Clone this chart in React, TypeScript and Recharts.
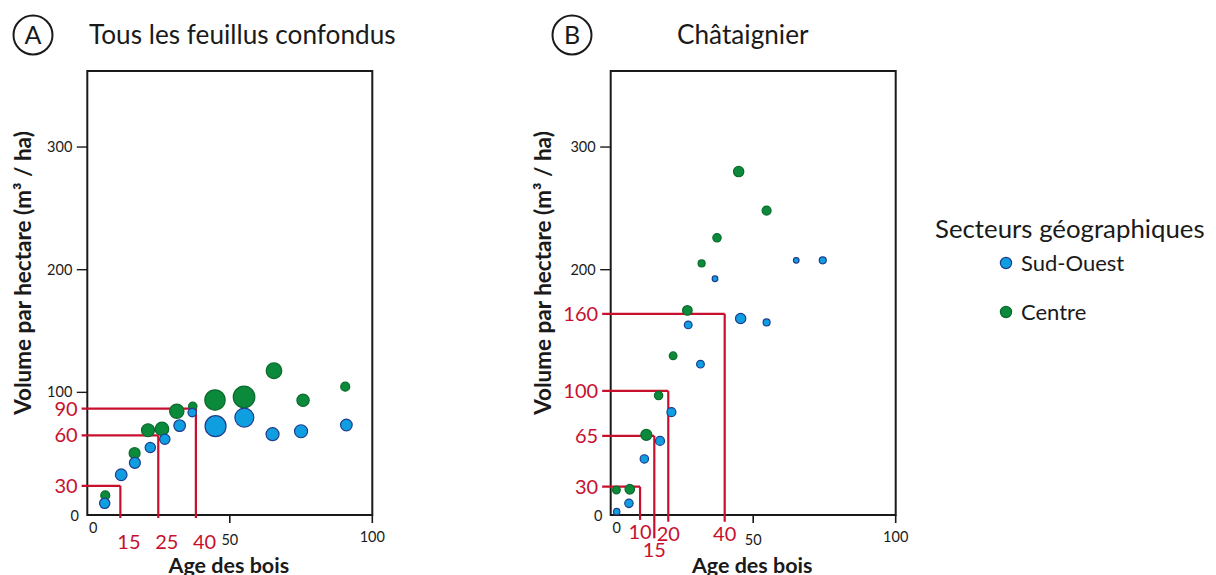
import React from 'react';
import {
  ScatterChart,
  Scatter,
  XAxis,
  YAxis,
  ReferenceArea,
  ReferenceLine,
  Legend,
} from 'recharts';

interface Point {
  age: number;
  volume: number;
  poids: number;
}

interface Guide {
  volumeLabel: string;
  ageLabel: string;
  volume: number;
  age: number;
  bas: number;
}

const SECTEURS = ['Sud-Ouest', 'Centre'];
const X_TICKS = [0, 50, 100];
const Y_TICKS_A = [0, 100, 200, 300];
// on B the red "100" stands in for the black one
const Y_TICKS_B = [0, 200, 300];

// A - tous les feuillus confondus
const sudOuestA: Point[] = [
  { age: 6.1, volume: 9.5, poids: 32 },
  { age: 11.9, volume: 32.8, poids: 40 },
  { age: 16.7, volume: 42.5, poids: 36 },
  { age: 22.1, volume: 55, poids: 32 },
  { age: 27.2, volume: 61.8, poids: 32 },
  { age: 32.4, volume: 72.9, poids: 40 },
  { age: 36.8, volume: 83.5, poids: 22 },
  { age: 45, volume: 72.4, poids: 121 },
  { age: 55.1, volume: 79.4, poids: 100 },
  { age: 65, volume: 65.9, poids: 49 },
  { age: 75, volume: 68.3, poids: 49 },
  { age: 90.9, volume: 73.4, poids: 40 },
];

const centreA: Point[] = [
  { age: 6.3, volume: 16, poids: 25 },
  { age: 16.6, volume: 50.4, poids: 36 },
  { age: 21.3, volume: 69.1, poids: 49 },
  { age: 26.2, volume: 70.2, poids: 53 },
  { age: 31.4, volume: 84.6, poids: 59 },
  { age: 37, volume: 88.6, poids: 22 },
  { age: 44.8, volume: 93.8, poids: 114 },
  { age: 55, volume: 96.2, poids: 128 },
  { age: 65.5, volume: 117.6, poids: 69 },
  { age: 75.7, volume: 93.5, poids: 44 },
  { age: 90.5, volume: 104.6, poids: 25 },
];

// B - châtaignier
const sudOuestB: Point[] = [
  { age: 2.1, volume: 2.7, poids: 14 },
  { age: 6.4, volume: 9.5, poids: 22 },
  { age: 11.8, volume: 45.7, poids: 22 },
  { age: 17.3, volume: 60.4, poids: 25 },
  { age: 21.3, volume: 83.8, poids: 25 },
  { age: 27.2, volume: 155, poids: 19 },
  { age: 31.5, volume: 123, poids: 19 },
  { age: 36.6, volume: 192.6, poids: 11 },
  { age: 45.6, volume: 160.2, poids: 32 },
  { age: 54.7, volume: 157, poids: 16 },
  { age: 65.1, volume: 207.6, poids: 11 },
  { age: 74.4, volume: 207.6, poids: 16 },
];

const centreB: Point[] = [
  { age: 2.0, volume: 20.4, poids: 19 },
  { age: 6.7, volume: 21, poids: 28 },
  { age: 12.5, volume: 65.3, poids: 36 },
  { age: 16.8, volume: 97.4, poids: 22 },
  { age: 21.9, volume: 129.8, poids: 19 },
  { age: 26.9, volume: 166.8, poids: 28 },
  { age: 31.9, volume: 205.1, poids: 16 },
  { age: 37.3, volume: 226, poids: 22 },
  { age: 44.9, volume: 280, poids: 32 },
  { age: 54.7, volume: 248.2, poids: 25 },
];

// red guides, placed where they were drawn on the original
const guidesA: Guide[] = [
  { volumeLabel: '30', ageLabel: '15', volume: 23.8, age: 11.6, bas: -2.5 },
  { volumeLabel: '60', ageLabel: '25', volume: 65, age: 24.9, bas: -2.5 },
  { volumeLabel: '90', ageLabel: '40', volume: 86.7, age: 38.1, bas: -2.5 },
];

const guidesB: Guide[] = [
  { volumeLabel: '30', ageLabel: '10', volume: 23.1, age: 10.3, bas: -4 },
  { volumeLabel: '65', ageLabel: '15', volume: 64.5, age: 15.3, bas: -19 },
  { volumeLabel: '100', ageLabel: '20', volume: 101.2, age: 20.2, bas: -5.5 },
  { volumeLabel: '160', ageLabel: '40', volume: 164, age: 40, bas: -5.5 },
];

const FONT = 'Lato, "Open Sans", sans-serif';
const INK = '#1a1a1a';
const RED = '#c8102e';
const COLORS: Record<string, { fill: string; stroke: string }> = {
  'Sud-Ouest': { fill: '#0f9fe0', stroke: '#1d3c8f' },
  Centre: { fill: '#0a8a3a', stroke: '#0b6a2c' },
};

const HEIGHT = 575;
const Y_MAX = 362;

// x tick label offsets (dx, dy to label centre) and whether a tick mark is drawn
const X_TICK_POS: Record<number, [number, number, boolean]> = {
  0: [6, 13, false],
  50: [0, 25, true],
  100: [0, 22, true],
};

const XTick = (props: any) => {
  const { x, y, payload } = props;
  const [dx, dy, mark] = X_TICK_POS[payload.value] || [0, 22, true];
  return (
    <g>
      {mark && <line x1={x} x2={x} y1={y} y2={y + 8} stroke={INK} strokeWidth={1.6} />}
      <text x={x + dx} y={y + dy + 5} textAnchor="middle" fontSize={14.5} fontFamily={FONT} fill={INK}>
        {payload.value}
      </text>
    </g>
  );
};

const YTick = (props: any) => {
  const { x, y, payload } = props;
  if (payload.value === 0) {
    return (
      <text x={x - 12.5} y={y + 6} textAnchor="middle" fontSize={14.5} fontFamily={FONT} fill={INK}>
        0
      </text>
    );
  }
  return (
    <g>
      <line x1={x - 10.5} x2={x} y1={y} y2={y} stroke={INK} strokeWidth={1.4} />
      <text x={x - 15} y={y + 5} textAnchor="end" fontSize={14.5} fontFamily={FONT} fill={INK}>
        {payload.value}
      </text>
    </g>
  );
};

const Bulle = (props: any) => {
  const { cx, cy, payload, fill, stroke } = props;
  const r = Math.sqrt(payload.poids) - 0.5;
  return <circle cx={cx} cy={cy} r={r} fill={fill} stroke={stroke} strokeWidth={1.2} />;
};

const LegendeSecteurs = ({ payload }: any) => {
  const items = SECTEURS.map((name) => (payload || []).find((p: any) => p.value === name) || { value: name });
  return (
    <div style={{ position: 'relative', fontFamily: FONT, color: INK, whiteSpace: 'nowrap' }}>
      <div style={{ position: 'absolute', left: 0, top: 0, fontSize: 25.8, lineHeight: '28px' }}>
        Secteurs géographiques
      </div>
      {items.map((p: any, i: number) => (
        <div
          key={p.value}
          style={{
            position: 'absolute',
            left: 64,
            top: 36 + i * 49,
            display: 'flex',
            alignItems: 'center',
            fontSize: 22,
            lineHeight: '26px',
          }}
        >
          <svg width={14} height={14}>
            <circle cx={7} cy={7} r={5.6} fill={COLORS[p.value].fill} stroke={COLORS[p.value].stroke} strokeWidth={1.2} />
          </svg>
          <span style={{ marginLeft: 8 }}>{p.value}</span>
        </div>
      ))}
    </div>
  );
};

interface PanelProps {
  left: number;
  width: number;
  marginLeft: number;
  marginRight: number;
  yTicks: number[];
  sudOuest: Point[];
  centre: Point[];
  guides: Guide[];
  guideStart: number;
  ageLabelAnchor: 'start' | 'middle';
  ageLabelDx: number;
  ageLabelDy: number;
  withLegend?: boolean;
}

const Panel: React.FC<PanelProps> = ({
  left,
  width,
  marginLeft,
  marginRight,
  yTicks,
  sudOuest,
  centre,
  guides,
  guideStart,
  ageLabelAnchor,
  ageLabelDx,
  ageLabelDy,
  withLegend,
}) => (
  <div style={{ position: 'absolute', left, top: 0 }}>
    <ScatterChart
      width={width}
      height={HEIGHT}
      margin={{ top: 71, right: marginRight, bottom: 30, left: marginLeft }}
    >
      <XAxis
        type="number"
        dataKey="age"
        domain={[0, 100]}
        ticks={X_TICKS}
        interval={0}
        allowDataOverflow
        axisLine={false}
        tickLine={false}
        tickSize={0}
        tickMargin={0}
        height={30}
        tick={(p: any) => <XTick {...p} />}
        label={{
          content: ({ viewBox }: any) => (
            <text
              x={viewBox.x + viewBox.width / 2 - 1}
              y={573}
              textAnchor="middle"
              fontSize={21.5}
              fontWeight={700}
              fontFamily={FONT}
              fill={INK}
            >
              Age des bois
            </text>
          ),
        }}
      />
      <YAxis
        type="number"
        dataKey="volume"
        domain={[0, Y_MAX]}
        ticks={yTicks}
        interval={0}
        allowDataOverflow
        axisLine={false}
        tickLine={false}
        tickSize={0}
        tickMargin={0}
        width={60}
        tick={(p: any) => <YTick {...p} />}
        label={{
          content: () => (
            <text
              x={22}
              y={273}
              transform="rotate(-90 22 273)"
              textAnchor="middle"
              dominantBaseline="central"
              fontSize={22.5}
              fontWeight={700}
              fontFamily={FONT}
              fill={INK}
            >
              Volume par hectare (m³ / ha)
            </text>
          ),
        }}
      />
      <ReferenceArea
        x1={0}
        x2={100}
        y1={0}
        y2={Y_MAX}
        fill="none"
        stroke={INK}
        strokeWidth={2}
        ifOverflow="visible"
      />
      {guides.map((g) => (
        <ReferenceLine
          key={'h' + g.volumeLabel}
          segment={[
            { x: guideStart, y: g.volume },
            { x: g.age, y: g.volume },
          ]}
          stroke={RED}
          strokeWidth={2.2}
          ifOverflow="visible"
          label={({ viewBox }: any) => (
            <text
              x={viewBox.x - 4}
              y={viewBox.y + 7}
              textAnchor="end"
              fontSize={20}
              fontFamily={FONT}
              fill={RED}
            >
              {g.volumeLabel}
            </text>
          )}
        />
      ))}
      {guides.map((g) => (
        <ReferenceLine
          key={'v' + g.ageLabel}
          segment={[
            { x: g.age, y: g.volume },
            { x: g.age, y: g.bas },
          ]}
          stroke={RED}
          strokeWidth={2.2}
          ifOverflow="visible"
          label={({ viewBox }: any) => (
            <text
              x={viewBox.x + ageLabelDx}
              y={viewBox.y + viewBox.height + ageLabelDy + 7}
              textAnchor={ageLabelAnchor}
              fontSize={20}
              fontFamily={FONT}
              fill={RED}
            >
              {g.ageLabel}
            </text>
          )}
        />
      ))}
      <Scatter
        name="Centre"
        data={centre}
        fill={COLORS.Centre.fill}
        stroke={COLORS.Centre.stroke}
        shape={(p: any) => <Bulle {...p} />}
        isAnimationActive={false}
      />
      <Scatter
        name="Sud-Ouest"
        data={sudOuest}
        fill={COLORS['Sud-Ouest'].fill}
        stroke={COLORS['Sud-Ouest'].stroke}
        shape={(p: any) => <Bulle {...p} />}
        isAnimationActive={false}
      />
      {withLegend && (
        <Legend
          content={(p: any) => <LegendeSecteurs {...p} />}
          wrapperStyle={{ left: 415, top: 214, width: 0, height: 0, overflow: 'visible' }}
        />
      )}
    </ScatterChart>
  </div>
);

const Titre: React.FC<{ cx: number; lettre: string; titre: string; titreX: number }> = ({
  cx,
  lettre,
  titre,
  titreX,
}) => (
  <g fontFamily={FONT} fill={INK}>
    <circle cx={cx} cy={35} r={19.5} fill="none" stroke={INK} strokeWidth={2} />
    <text x={cx} y={44} textAnchor="middle" fontSize={25}>
      {lettre}
    </text>
    <text x={titreX} y={44} fontSize={26.2}>
      {titre}
    </text>
  </g>
);

export default function App() {
  return (
    <div
      style={{
        position: 'absolute',
        left: 0,
        top: 0,
        width: 1216,
        height: HEIGHT,
        background: '#fff',
        overflow: 'hidden',
      }}
    >
      <Panel
        left={0}
        width={520}
        marginLeft={27.3}
        marginRight={147.7}
        yTicks={Y_TICKS_A}
        sudOuest={sudOuestA}
        centre={centreA}
        guides={guidesA}
        guideStart={-2}
        ageLabelAnchor="start"
        ageLabelDx={-3}
        ageLabelDy={24}
      />
      <Panel
        left={520}
        width={696}
        marginLeft={30.7}
        marginRight={320.3}
        yTicks={Y_TICKS_B}
        sudOuest={sudOuestB}
        centre={centreB}
        guides={guidesB}
        guideStart={-3}
        ageLabelAnchor="middle"
        ageLabelDx={0}
        ageLabelDy={12}
        withLegend
      />
      <svg
        width={1216}
        height={70}
        style={{ position: 'absolute', left: 0, top: 0, pointerEvents: 'none' }}
      >
        <Titre cx={33} lettre="A" titre="Tous les feuillus confondus" titreX={89} />
        <Titre cx={572} lettre="B" titre="Châtaignier" titreX={677} />
      </svg>
    </div>
  );
}
